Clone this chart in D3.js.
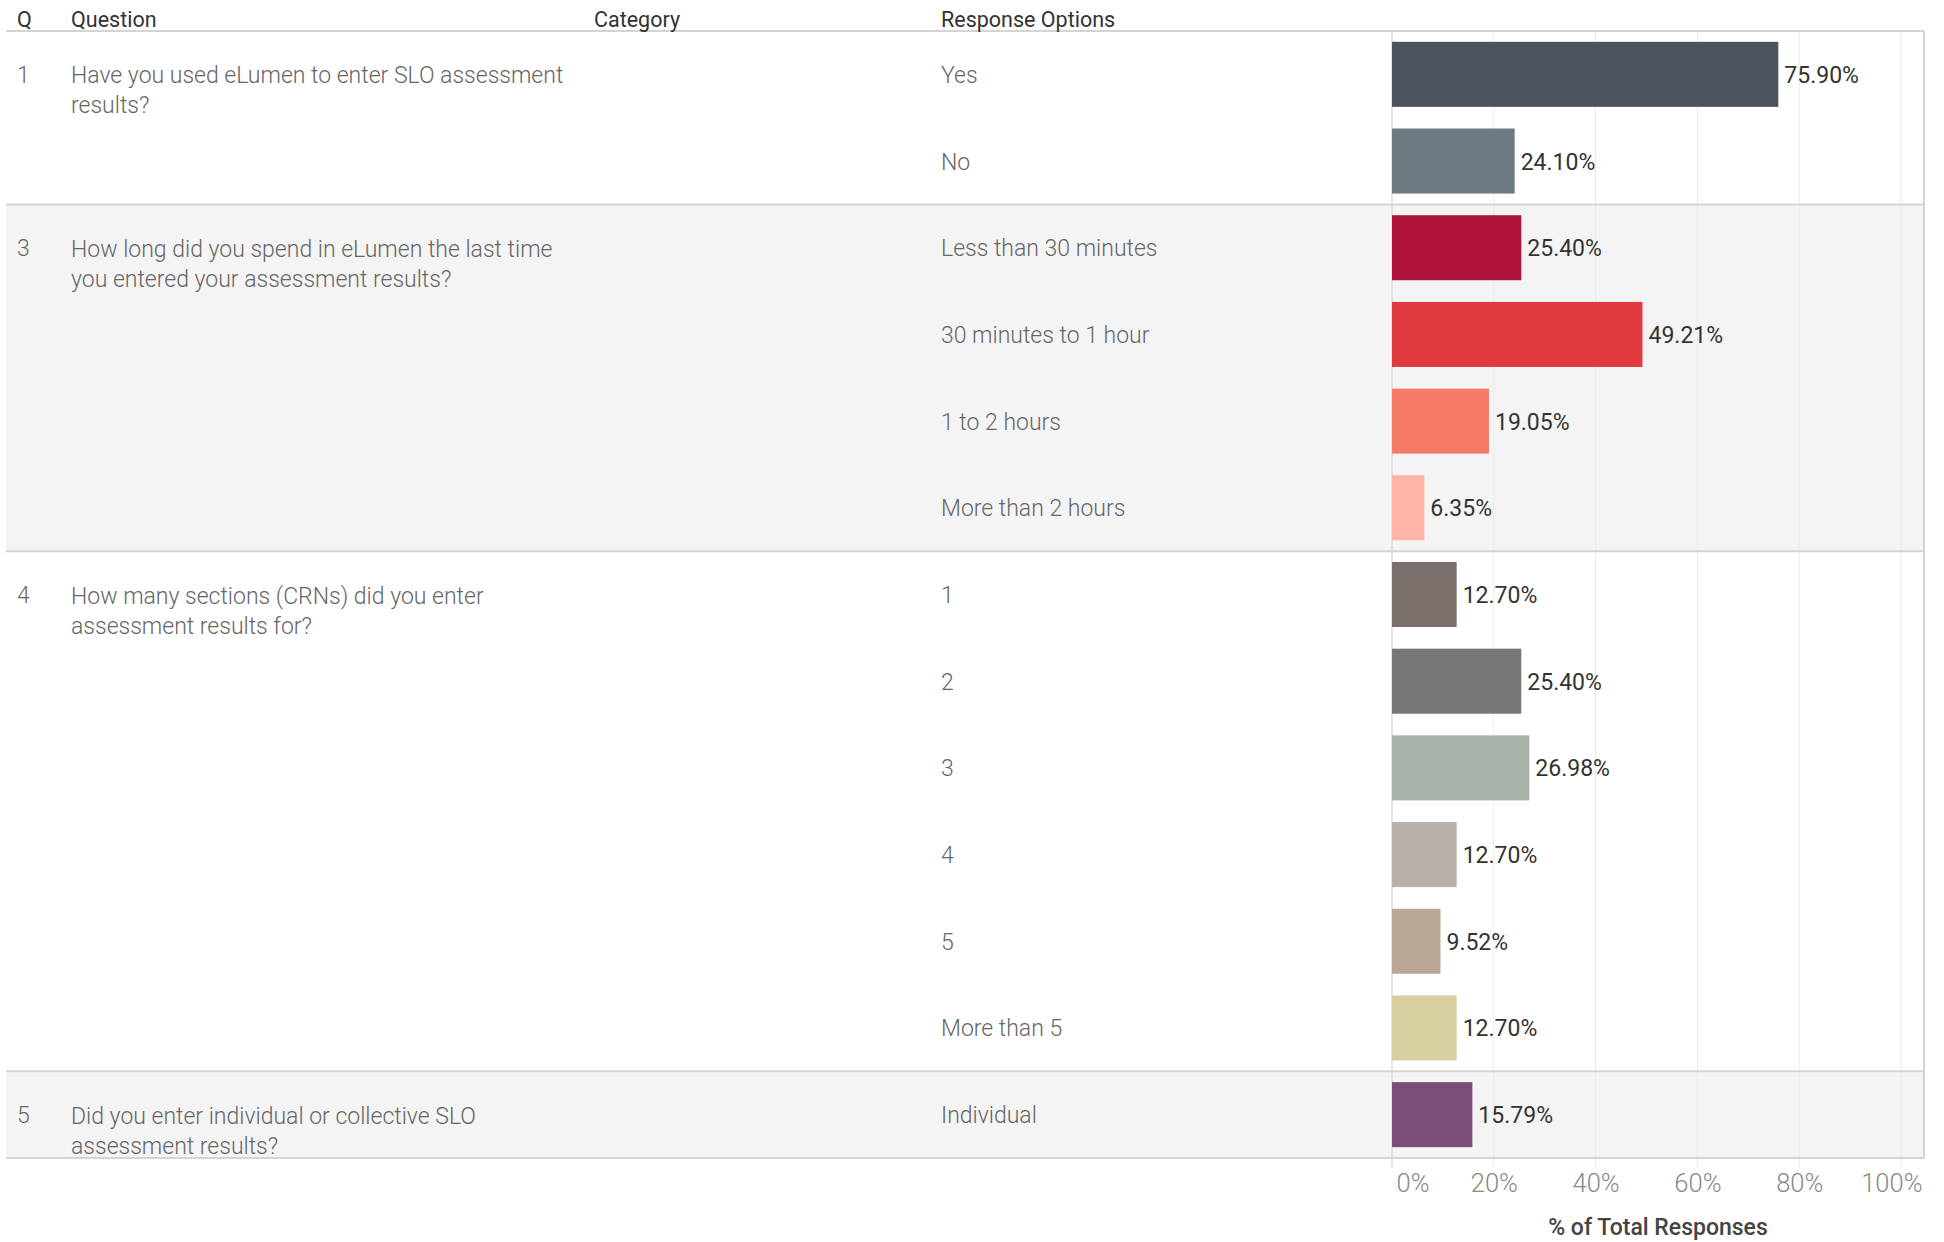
<!DOCTYPE html>
<html>
<head>
<meta charset="utf-8">
<script src="https://cdn.jsdelivr.net/npm/d3@7"></script>
<style>
  html, body { margin: 0; padding: 0; background: #fff; }
  svg { display: block; font-family: Roboto, "Noto Sans", sans-serif; }
</style>
</head>
<body>
<svg id="chart" width="1944" height="1242"></svg>
<script>
// ---- data ----
const qNumbers = ["1", "3", "4", "5"];
const questionLines = [
  ["Have you used eLumen to enter SLO assessment", "results?"],
  ["How long did you spend in eLumen the last time", "you entered your assessment results?"],
  ["How many sections (CRNs) did you enter", "assessment results for?"],
  ["Did you enter individual or collective SLO", "assessment results?"]
];
const responseOptions = ["Yes", "No", "Less than 30 minutes", "30 minutes to 1 hour", "1 to 2 hours",
  "More than 2 hours", "1", "2", "3", "4", "5", "More than 5", "Individual"];
const responseQuestion = ["1", "1", "3", "3", "3", "3", "4", "4", "4", "4", "4", "4", "5"];
const percentValues = [75.90, 24.10, 25.40, 49.21, 19.05, 6.35, 12.70, 25.40, 26.98, 12.70, 9.52, 12.70, 15.79];
const barColors = ["#4b5260", "#6d7a82", "#ae1239", "#e03a40", "#f77c68", "#ffb3a6",
  "#7a6f6b", "#767676", "#a9b2ab", "#bab0aa", "#b8a895", "#d8cfa0", "#7d4d79"];
const xTicks = [0, 20, 40, 60, 80, 100];
const headers = ["Q", "Question", "Category", "Response Options"];

// ---- layout ----
const svg = d3.select("#chart");
const tableLeft = 6, tableRight = 1924;
const plotTop = 31, plotBottom = 1158;
const colX = [17, 71, 594, 941];
const bodySize = 23;
const rows = responseOptions.map((o, i) => ({ opt: o, q: responseQuestion[i], v: percentValues[i], c: barColors[i], key: i }));

const x = d3.scaleLinear().domain([0, 100]).range([1392, 1901]);
const y = d3.scaleBand().domain(rows.map(d => d.key)).range([plotTop, plotBottom]).paddingInner(0.25).paddingOuter(0.125);
const step = y.step();

// question groups
const groups = qNumbers.map((q, i) => {
  const idx = rows.filter(r => r.q === q).map(r => r.key);
  const first = d3.min(idx), last = d3.max(idx);
  return { q, lines: questionLines[i], first, last, shade: i % 2 === 1,
           top: plotTop + first * step, bottom: plotTop + (last + 1) * step };
});

// shaded bands
svg.append("g").selectAll("rect").data(groups.filter(g => g.shade)).join("rect")
  .attr("x", tableLeft).attr("width", tableRight - tableLeft)
  .attr("y", d => d.top).attr("height", d => d.bottom - d.top)
  .attr("fill", "#f4f4f4");

// vertical gridlines
svg.append("g").selectAll("line").data(xTicks.filter(t => t > 0)).join("line")
  .attr("x1", d => x(d)).attr("x2", d => x(d))
  .attr("y1", plotTop).attr("y2", plotBottom + 9)
  .attr("stroke", "#ebebeb").attr("stroke-width", 1);

// zero line and right border
svg.append("line").attr("x1", x(0)).attr("x2", x(0)).attr("y1", plotTop).attr("y2", plotBottom + 9)
  .attr("stroke", "#d4d4d4").attr("stroke-width", 1.2);
svg.append("line").attr("x1", tableRight).attr("x2", tableRight).attr("y1", plotTop).attr("y2", plotBottom)
  .attr("stroke", "#d4d4d4").attr("stroke-width", 2);

// horizontal separators
const seps = [plotTop].concat(groups.map(g => g.bottom));
svg.append("g").selectAll("line").data(seps).join("line")
  .attr("x1", tableLeft).attr("x2", tableRight)
  .attr("y1", d => d).attr("y2", d => d)
  .attr("stroke", "#d4d4d4").attr("stroke-width", 2);

// headers
svg.append("g").selectAll("text").data(headers).join("text")
  .attr("x", (d, i) => colX[i]).attr("y", 19)
  .attr("dominant-baseline", "central")
  .attr("font-size", 21.5).attr("font-weight", 400).attr("fill", "#333")
  .text(d => d);

// question numbers + text
const qg = svg.append("g").selectAll("g").data(groups).join("g");
qg.append("text")
  .attr("x", colX[0]).attr("y", d => y(d.first) + y.bandwidth() / 2 + 1)
  .attr("dominant-baseline", "central")
  .attr("font-size", bodySize).attr("font-weight", 300).attr("fill", "#666")
  .text(d => d.q);
qg.each(function (d) {
  const t = d3.select(this).append("text")
    .attr("x", colX[1]).attr("y", y(d.first) + y.bandwidth() / 2 + 1)
    .attr("dominant-baseline", "central")
    .attr("font-size", bodySize).attr("font-weight", 300).attr("fill", "#666");
  t.selectAll("tspan").data(d.lines).join("tspan")
    .attr("x", colX[1]).attr("dy", (l, i) => i === 0 ? 0 : 30)
    .text(l => l);
});

// response options
svg.append("g").selectAll("text").data(rows).join("text")
  .attr("x", colX[3]).attr("y", d => y(d.key) + y.bandwidth() / 2 + 1)
  .attr("dominant-baseline", "central")
  .attr("font-size", bodySize).attr("font-weight", 300).attr("fill", "#666")
  .text(d => d.opt);

// bars
svg.append("g").selectAll("rect").data(rows).join("rect")
  .attr("x", x(0)).attr("y", d => y(d.key))
  .attr("width", d => x(d.v) - x(0)).attr("height", y.bandwidth())
  .attr("fill", d => d.c);

// value labels
svg.append("g").selectAll("text").data(rows).join("text")
  .attr("x", d => x(d.v) + 6).attr("y", d => y(d.key) + y.bandwidth() / 2 + 1)
  .attr("dominant-baseline", "central")
  .attr("font-size", bodySize).attr("font-weight", 400).attr("fill", "#333")
  .text(d => d.v.toFixed(2) + "%");

// x axis
const axisG = svg.append("g").attr("transform", `translate(0,${plotBottom + 13})`)
  .call(d3.axisBottom(x).tickValues(xTicks).tickSize(0).tickFormat(d => d + "%"));
axisG.select(".domain").remove();
axisG.selectAll("text")
  .attr("font-size", 25.5).attr("fill", "#888").attr("font-family", "Roboto, sans-serif")
  .attr("font-weight", 300);
axisG.selectAll(".tick").filter(d => d === 0).select("text").attr("text-anchor", "start").attr("dx", 4);
axisG.selectAll(".tick").filter(d => d === 100).select("text").attr("text-anchor", "end").attr("dx", 21);

// axis title
svg.append("text")
  .attr("x", (x(0) + tableRight) / 2).attr("y", 1227)
  .attr("text-anchor", "middle").attr("dominant-baseline", "central")
  .attr("font-size", 23).attr("font-weight", 500).attr("fill", "#444")
  .text("% of Total Responses");
</script>
</body>
</html>
